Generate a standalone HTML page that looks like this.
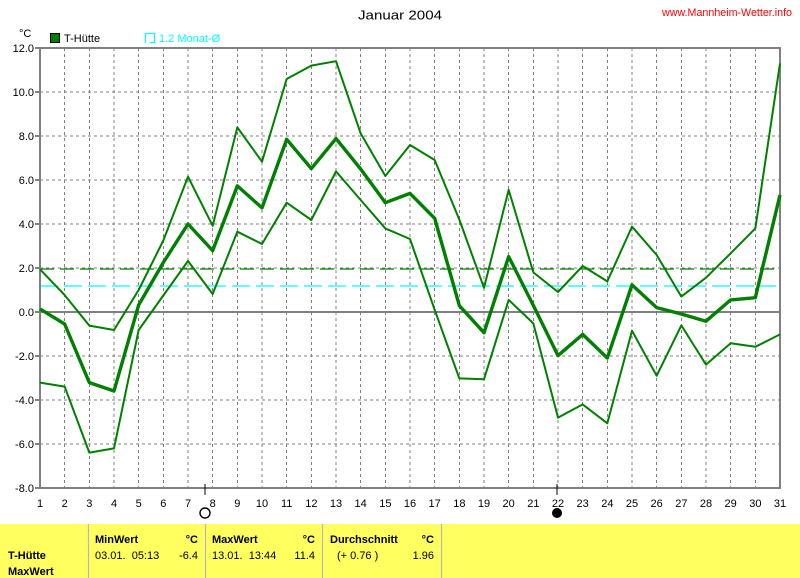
<!DOCTYPE html>
<html><head><meta charset="utf-8"><style>
html,body{margin:0;padding:0;background:#fff;}
svg{display:block;font-family:"Liberation Sans",sans-serif;}
</style></head><body>
<svg width="800" height="578" viewBox="0 0 800 578" xmlns="http://www.w3.org/2000/svg">
<rect width="800" height="578" fill="#fff"/>
<text x="358" y="19.5" font-size="13" textLength="84" lengthAdjust="spacingAndGlyphs">Januar 2004</text>
<text x="662" y="16" font-size="11" fill="#ff0000" textLength="130" lengthAdjust="spacingAndGlyphs">www.Mannheim-Wetter.info</text>
<text x="19" y="37" font-size="11">°C</text>
<rect x="50.5" y="33.5" width="9" height="9" fill="#008000" stroke="#000" stroke-width="1"/>
<text x="64" y="42" font-size="11">T-Hütte</text>
<path d="M145.5 43 V33.5 H154.5 V42.5 H150" fill="none" stroke="#00ffff" stroke-width="1.2"/>
<text x="159" y="42" font-size="11" fill="#00ffff">1.2 Monat-Ø</text>

<g stroke="#808080" stroke-width="1" stroke-dasharray="3,3" fill="none" shape-rendering="crispEdges">
<path d="M64.67 48V488M89.33 48V488M114 48V488M138.67 48V488M163.33 48V488M188 48V488M212.67 48V488M237.33 48V488M262 48V488M286.67 48V488M311.33 48V488M336 48V488M360.67 48V488M385.33 48V488M410 48V488M434.67 48V488M459.33 48V488M484 48V488M508.67 48V488M533.33 48V488M558 48V488M582.67 48V488M607.33 48V488M632 48V488M656.67 48V488M681.33 48V488M706 48V488M730.67 48V488M755.33 48V488"/>
<path d="M40 92H780M40 136H780M40 180H780M40 224H780M40 268H780M40 356H780M40 400H780M40 444H780"/>
</g>
<line x1="40" y1="269" x2="776" y2="269" stroke="#008000" stroke-width="1.2" stroke-dasharray="14,6"/>
<line x1="40" y1="286" x2="776" y2="286" stroke="#00ffff" stroke-width="1.2" stroke-dasharray="18,6"/>
<line x1="40" y1="312" x2="780" y2="312" stroke="#808080" stroke-width="2" shape-rendering="crispEdges"/>
<rect x="40" y="48" width="740" height="440" fill="none" stroke="#808080" stroke-width="2.4" shape-rendering="crispEdges"/>

<g fill="none" stroke="#008000" stroke-linejoin="round">
<polyline stroke-width="2" points="40,269.3 64.67,295.1 89.33,325.6 114,330 138.67,290 163.33,240.5 188,176.7 212.67,225.8 237.33,127.4 262,161.7 286.67,79 311.33,65.6 336,61.2 360.67,133.4 385.33,176 410,145 434.67,160 459.33,219.6 484,287.8 508.67,189.9 533.33,272.4 558,292 582.67,266 607.33,281.4 632,226.6 656.67,255 681.33,296.6 706,277.7 730.67,253.3 755.33,228.4 780,63.4"/>
<polyline stroke-width="3.4" points="40,308.9 64.67,324.1 89.33,382.6 114,391 138.67,305 163.33,262.5 188,224 212.67,250.6 237.33,185.9 262,207.9 286.67,139.3 311.33,168.6 336,138.6 360.67,169 385.33,202.7 410,193.4 434.67,218.3 459.33,305.6 484,332.7 508.67,256.6 533.33,305.4 558,355.6 582.67,334.4 607.33,358 632,284.9 656.67,307.6 681.33,314 706,321.2 730.67,299.9 755.33,297.7 780,195"/>
<polyline stroke-width="2" points="40,382.6 64.67,386.6 89.33,452.6 114,448.4 138.67,330 163.33,295.5 188,261 212.67,294 237.33,231.7 262,244 286.67,202.7 311.33,220 336,171.4 360.67,200 385.33,228.4 410,239 434.67,309.8 459.33,378.4 484,379.3 508.67,299.9 533.33,323.4 558,417.6 582.67,404.4 607.33,423.3 632,330.7 656.67,375.8 681.33,325.4 706,364.6 730.67,343.2 755.33,346.8 780,334.4"/>
</g>

<g stroke="#000" stroke-width="1" shape-rendering="crispEdges">
<path d="M35 48H39M35 92H39M35 136H39M35 180H39M35 224H39M35 268H39M35 312H39M35 356H39M35 400H39M35 444H39M35 488H39"/>
<path d="M205 484V495M557 484V495"/>
</g>
<g font-size="11" text-anchor="end">
<text x="34" y="52">12.0</text><text x="34" y="96">10.0</text><text x="34" y="140">8.0</text><text x="34" y="184">6.0</text><text x="34" y="228">4.0</text><text x="34" y="272">2.0</text><text x="34" y="316">0.0</text><text x="34" y="360">-2.0</text><text x="34" y="404">-4.0</text><text x="34" y="448">-6.0</text><text x="34" y="492">-8.0</text>
</g>
<g font-size="11" text-anchor="middle">
<text x="40" y="507">1</text><text x="64.67" y="507">2</text><text x="89.33" y="507">3</text><text x="114" y="507">4</text><text x="138.67" y="507">5</text><text x="163.33" y="507">6</text><text x="188" y="507">7</text><text x="212.67" y="507">8</text><text x="237.33" y="507">9</text><text x="262" y="507">10</text><text x="286.67" y="507">11</text><text x="311.33" y="507">12</text><text x="336" y="507">13</text><text x="360.67" y="507">14</text><text x="385.33" y="507">15</text><text x="410" y="507">16</text><text x="434.67" y="507">17</text><text x="459.33" y="507">18</text><text x="484" y="507">19</text><text x="508.67" y="507">20</text><text x="533.33" y="507">21</text><text x="558" y="507">22</text><text x="582.67" y="507">23</text><text x="607.33" y="507">24</text><text x="632" y="507">25</text><text x="656.67" y="507">26</text><text x="681.33" y="507">27</text><text x="706" y="507">28</text><text x="730.67" y="507">29</text><text x="755.33" y="507">30</text><text x="780" y="507">31</text>
</g>
<circle cx="205" cy="513" r="5" fill="#fff" stroke="#000" stroke-width="1.4"/>
<circle cx="557" cy="513" r="5" fill="#000"/>

<rect x="0" y="524" width="800" height="54" fill="#ffff5f"/>
<g stroke="#b8b8b8" stroke-width="1.2">
<path d="M88.5 524V578M205.5 524V578M322.5 524V578M441.5 524V578"/>
</g>
<g font-size="11">
<text x="8" y="559" font-weight="bold">T-Hütte</text>
<text x="8" y="575" font-weight="bold">MaxWert</text>
<text x="95" y="543" font-weight="bold">MinWert</text>
<text x="198" y="543" font-weight="bold" text-anchor="end">°C</text>
<text x="95" y="559" xml:space="preserve">03.01.  05:13</text>
<text x="198" y="559" text-anchor="end">-6.4</text>
<text x="212" y="543" font-weight="bold">MaxWert</text>
<text x="315" y="543" font-weight="bold" text-anchor="end">°C</text>
<text x="212" y="559" xml:space="preserve">13.01.  13:44</text>
<text x="315" y="559" text-anchor="end">11.4</text>
<text x="330" y="543" font-weight="bold">Durchschnitt</text>
<text x="434" y="543" font-weight="bold" text-anchor="end">°C</text>
<text x="337" y="559" xml:space="preserve">(+ 0.76 )</text>
<text x="434" y="559" text-anchor="end">1.96</text>
</g>
</svg>
</body></html>
